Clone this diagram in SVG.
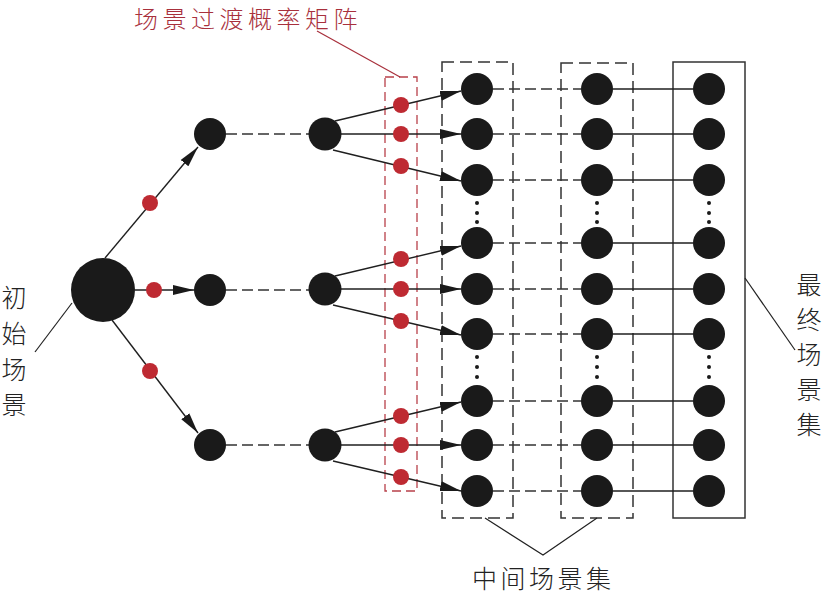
<svg xmlns="http://www.w3.org/2000/svg" width="826" height="594" viewBox="0 0 826 594">
<defs>
<marker id="ah" markerUnits="userSpaceOnUse" markerWidth="22" markerHeight="12" refX="21" refY="5" orient="auto" viewBox="0 0 22 10"><path d="M0,0 L21,5 L0,10 z" fill="#1a1a1a"/></marker>
<style>
.n{fill:#1a1a1a}
.rd{fill:#be2a32}
.ln{stroke:#1f1f1f;stroke-width:1.4;fill:none}
.dl{stroke:#333;stroke-width:1.5;fill:none;stroke-dasharray:11 5}
.bx{stroke:#333;stroke-width:1.5;fill:none;stroke-dasharray:12 6}
.sb{stroke:#333;stroke-width:1.5;fill:none}
.rb{stroke:#b8404a;stroke-width:1.3;fill:none;stroke-dasharray:9 5}
.dot{fill:#1a1a1a}
.t{font-family:"Noto Sans CJK SC","Noto Sans",sans-serif;font-size:25px;font-weight:300;fill:#222}
.tr{font-family:"Noto Sans CJK SC","Noto Sans",sans-serif;font-size:24px;font-weight:300;fill:#a8303c}
</style>
</defs>
<rect width="826" height="594" fill="#fff"/>

<g id="boxes">
<rect class="rb" x="385" y="77" width="32" height="414"/>
<rect class="bx" x="442" y="62" width="71" height="456"/>
<rect class="bx" x="561" y="63" width="72" height="455"/>
<rect class="sb" x="673" y="62" width="72" height="456"/>
</g>

<g id="connectors">
<line class="ln" x1="105" y1="258" x2="198" y2="147" marker-end="url(#ah)"/>
<line class="ln" x1="135" y1="290" x2="194" y2="290" marker-end="url(#ah)"/>
<line class="ln" x1="112" y1="320" x2="198" y2="433" marker-end="url(#ah)"/>
<line class="dl" x1="226" y1="134" x2="309" y2="134"/>
<line class="dl" x1="226" y1="290" x2="309" y2="290"/>
<line class="dl" x1="226" y1="445" x2="309" y2="445"/>
<line class="ln" x1="335" y1="121" x2="461" y2="91" marker-end="url(#ah)"/>
<line class="ln" x1="341" y1="134" x2="461" y2="134" marker-end="url(#ah)"/>
<line class="ln" x1="333" y1="150" x2="461" y2="181" marker-end="url(#ah)"/>
<line class="ln" x1="335" y1="276" x2="461" y2="246" marker-end="url(#ah)"/>
<line class="ln" x1="341" y1="289" x2="461" y2="289" marker-end="url(#ah)"/>
<line class="ln" x1="333" y1="305" x2="461" y2="335" marker-end="url(#ah)"/>
<line class="ln" x1="335" y1="432" x2="461" y2="402" marker-end="url(#ah)"/>
<line class="ln" x1="341" y1="445" x2="461" y2="445" marker-end="url(#ah)"/>
<line class="ln" x1="333" y1="461" x2="461" y2="491" marker-end="url(#ah)"/>
<g class="dl">
<line x1="493" y1="89" x2="581" y2="89"/>
<line x1="493" y1="134" x2="581" y2="134"/>
<line x1="493" y1="180" x2="581" y2="180"/>
<line x1="493" y1="243" x2="581" y2="243"/>
<line x1="493" y1="289" x2="581" y2="289"/>
<line x1="493" y1="334" x2="581" y2="334"/>
<line x1="493" y1="401" x2="581" y2="401"/>
<line x1="493" y1="445" x2="581" y2="445"/>
<line x1="493" y1="491" x2="581" y2="491"/>
</g>
<g class="ln">
<line x1="613" y1="89" x2="693" y2="89"/>
<line x1="613" y1="134" x2="693" y2="134"/>
<line x1="613" y1="180" x2="693" y2="180"/>
<line x1="613" y1="243" x2="693" y2="243"/>
<line x1="613" y1="289" x2="693" y2="289"/>
<line x1="613" y1="334" x2="693" y2="334"/>
<line x1="613" y1="401" x2="693" y2="401"/>
<line x1="613" y1="445" x2="693" y2="445"/>
<line x1="613" y1="491" x2="693" y2="491"/>
</g>
<line x1="35" y1="352" x2="72" y2="303" stroke="#222" stroke-width="1.2"/>
<polyline points="485,518 543,555 597,518" fill="none" stroke="#222" stroke-width="1.2"/>
<line x1="745" y1="278" x2="795" y2="350" stroke="#222" stroke-width="1.2"/>
<line x1="317" y1="31" x2="400" y2="77" stroke="#a8303c" stroke-width="1.2"/>
</g>

<g id="prob">
<circle class="rd" cx="150" cy="203" r="8"/>
<circle class="rd" cx="154" cy="290" r="8"/>
<circle class="rd" cx="150" cy="371" r="8"/>
<circle class="rd" cx="401" cy="105" r="8"/>
<circle class="rd" cx="401" cy="134" r="8"/>
<circle class="rd" cx="401" cy="166" r="8"/>
<circle class="rd" cx="401" cy="259" r="8"/>
<circle class="rd" cx="401" cy="289" r="8"/>
<circle class="rd" cx="401" cy="321" r="8"/>
<circle class="rd" cx="401" cy="416" r="8"/>
<circle class="rd" cx="401" cy="445" r="8"/>
<circle class="rd" cx="401" cy="477" r="8"/>
</g>

<g id="initial"><circle class="n" cx="103" cy="290" r="32"/></g>
<g id="level1">
<circle class="n" cx="210" cy="134" r="16"/>
<circle class="n" cx="210" cy="290" r="16"/>
<circle class="n" cx="210" cy="445" r="16"/>
</g>
<g id="level2">
<circle class="n" cx="325" cy="134" r="16.5"/>
<circle class="n" cx="325" cy="289" r="16.5"/>
<circle class="n" cx="325" cy="445" r="16.5"/>
</g>
<g id="mid1">
<circle class="n" cx="477" cy="89" r="16"/>
<circle class="n" cx="477" cy="134" r="16"/>
<circle class="n" cx="477" cy="180" r="16"/>
<circle class="n" cx="477" cy="243" r="16"/>
<circle class="n" cx="477" cy="289" r="16"/>
<circle class="n" cx="477" cy="334" r="16"/>
<circle class="n" cx="477" cy="401" r="16"/>
<circle class="n" cx="477" cy="445" r="16"/>
<circle class="n" cx="477" cy="491" r="16"/>
</g>
<g id="mid2">
<circle class="n" cx="597" cy="89" r="16"/>
<circle class="n" cx="597" cy="134" r="16"/>
<circle class="n" cx="597" cy="180" r="16"/>
<circle class="n" cx="597" cy="243" r="16"/>
<circle class="n" cx="597" cy="289" r="16"/>
<circle class="n" cx="597" cy="334" r="16"/>
<circle class="n" cx="597" cy="401" r="16"/>
<circle class="n" cx="597" cy="445" r="16"/>
<circle class="n" cx="597" cy="491" r="16"/>
</g>
<g id="final">
<circle class="n" cx="709" cy="89" r="16"/>
<circle class="n" cx="709" cy="134" r="16"/>
<circle class="n" cx="709" cy="180" r="16"/>
<circle class="n" cx="709" cy="243" r="16"/>
<circle class="n" cx="709" cy="289" r="16"/>
<circle class="n" cx="709" cy="334" r="16"/>
<circle class="n" cx="709" cy="401" r="16"/>
<circle class="n" cx="709" cy="445" r="16"/>
<circle class="n" cx="709" cy="491" r="16"/>
</g>
<g id="ellipses">
<circle class="dot" cx="477" cy="203" r="2"/><circle class="dot" cx="477" cy="213" r="2"/><circle class="dot" cx="477" cy="222" r="2"/>
<circle class="dot" cx="477" cy="357" r="2"/><circle class="dot" cx="477" cy="367" r="2"/><circle class="dot" cx="477" cy="377" r="2"/>
<circle class="dot" cx="597" cy="203" r="2"/><circle class="dot" cx="597" cy="213" r="2"/><circle class="dot" cx="597" cy="222" r="2"/>
<circle class="dot" cx="597" cy="357" r="2"/><circle class="dot" cx="597" cy="367" r="2"/><circle class="dot" cx="597" cy="377" r="2"/>
<circle class="dot" cx="709" cy="203" r="2"/><circle class="dot" cx="709" cy="213" r="2"/><circle class="dot" cx="709" cy="222" r="2"/>
<circle class="dot" cx="709" cy="357" r="2"/><circle class="dot" cx="709" cy="367" r="2"/><circle class="dot" cx="709" cy="377" r="2"/>
</g>

<g id="labels">
<text class="tr" x="134" y="28" letter-spacing="4.5">场景过渡概率矩阵</text>
<text class="t" x="472" y="588" letter-spacing="3.5">中间场景集</text>
<g class="t" text-anchor="middle">
<text x="14" y="307">初</text>
<text x="14" y="343">始</text>
<text x="14" y="379">场</text>
<text x="14" y="414">景</text>
<text x="809" y="294">最</text>
<text x="809" y="329">终</text>
<text x="809" y="364">场</text>
<text x="809" y="399">景</text>
<text x="809" y="434">集</text>
</g>
</g>
</svg>
